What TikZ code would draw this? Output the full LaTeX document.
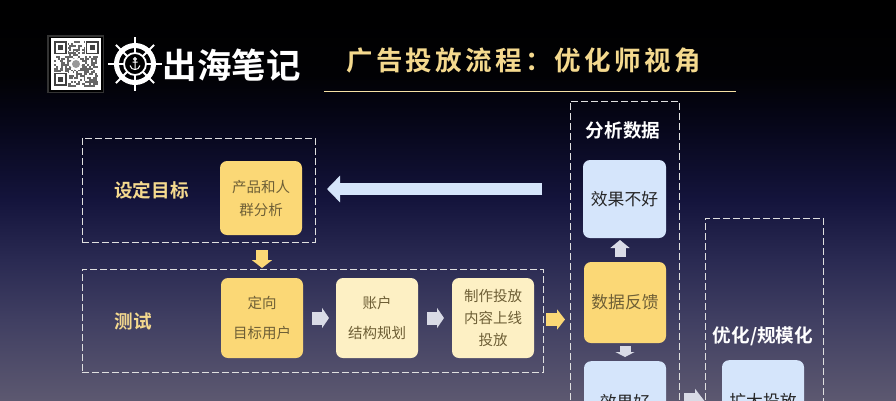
\documentclass[tikz,border=0pt]{standalone}
\usepackage{fontspec}
\usetikzlibrary{arrows.meta,calc}
\newfontfamily\cjk{Noto Sans CJK SC}
\newfontfamily\cjkb{Noto Sans CJK SC Bold}
\newfontfamily\cjkt[LetterSpace=12.5]{Noto Sans CJK SC Bold}
\definecolor{gold}{HTML}{FBD876}
\definecolor{pale}{HTML}{FDF0C4}
\definecolor{ice}{HTML}{D5E5FB}
\definecolor{greyarrow}{HTML}{D9DBE6}
\definecolor{headgold}{HTML}{F4D98E}
\definecolor{cardtext}{HTML}{6E5F36}
\definecolor{c400}{HTML}{5C5870}
\definecolor{c320}{HTML}{403F62}
\definecolor{c260}{HTML}{2A2A52}
\definecolor{c200}{HTML}{14143C}
\definecolor{c130}{HTML}{07071C}
\definecolor{c75}{HTML}{010104}
\pgfdeclareverticalshading{bgshade}{100bp}{
  color(0bp)=(c400);
  color(25bp)=(c400); color(35bp)=(c320); color(42.5bp)=(c260);
  color(50bp)=(c200); color(58.75bp)=(c130); color(65.6bp)=(c75);
  color(75bp)=(black); color(100bp)=(black)}
\tikzset{
  x=1pt,y=-1pt,
  dashbox/.style={draw=white!88!black,line width=0.9pt,dash pattern=on 7pt off 3pt},
  card/.style={rounded corners=7pt,inner sep=0pt,align=center,font=\cjk\fontsize{14.5}{23}\selectfont},
  goldcard/.style={card,fill=gold,text=cardtext},
  palecard/.style={card,fill=pale,text=cardtext},
  icecard/.style={card,fill=ice,text=black!85},
  blockarrow/.style={line width=#1,line cap=butt},
  head/.style={font=\cjkb\fontsize{18.6}{22}\selectfont},
}
\begin{document}
\begin{tikzpicture}
\useasboundingbox (0,0) rectangle (896,400);
\clip (0,0) rectangle (896,400);
\shade[shading=bgshade] (0,0) rectangle (896,400);

% QR code
\fill[black!80!white] (47,35) rectangle (104,93);
\fill[black] (48.5,36.5) rectangle (102.5,91.5);
\fill[white] (51,38) rectangle (101,90);
\pgfmathsetseed{7}
\foreach \i in {0,...,23}{\foreach \j in {0,...,23}{
  \pgfmathparse{rnd<0.5?1:0}
  \ifnum\pgfmathresult=1
    \fill[black!60] ({54+\i*1.85},{41+\j*1.9}) rectangle ++(1.85,1.9);
  \fi}}
\foreach \px/\py in {54/41,85.5/41,54/72.6}{
  \fill[white] (\px-1,\py-1) rectangle ++(15,15.5);
  \fill[black!75] (\px,\py) rectangle ++(13,13.4);
  \fill[white] (\px+1.6,\py+1.6) rectangle ++(9.8,10.2);
  \fill[black!75] (\px+4,\py+4) rectangle ++(5,5.4);
}
\fill[white] (76,64) circle (6);
\fill[black!40] (76,64) circle (4);

% wheel logo
\begin{scope}[shift={(135,64)}]
  \foreach \a in {0,90,180,270}
    \draw[white,line width=1.4pt] (\a:10) -- (\a:27);
  \foreach \a in {45,135,225,315}
    \draw[white,line width=2pt] (\a:10) -- (\a:27);
  \draw[white,line width=5pt] (0,0) circle (18.5);
  \foreach \a in {22.5,67.5,...,360}
    \draw[black,line width=2pt] (\a-12:14.2) arc[start angle=\a-12,end angle=\a+12,radius=14.2];
  \fill[black] (0,0) circle (10.8);
  \draw[white,line width=1.8pt] (0,0) circle (11);
  \draw[white,line width=1pt] (0,-5) circle (1.3) (0,-3.7) -- (0,5.5) (-2.5,-1.8) -- (2.5,-1.8);
  \draw[white,line width=1pt] (-5,1.5) .. controls (-4.5,4.5) and (-2,5.5) .. (0,5.5) .. controls (2,5.5) and (4.5,4.5) .. (5,1.5);
\end{scope}

\node[text=white,font=\cjkb\fontsize{34.5}{36}\selectfont,inner sep=0pt] (brand) at (231.5,65) {出海笔记};
\node[text=headgold,font=\cjkt\fontsize{26.5}{28}\selectfont,inner sep=0pt] (title) at (523.5,60.5) {广告投放流程：优化师视角};
\coordinate (ruleL) at (324,91);
\coordinate (ruleR) at (736,91);
\draw[draw=headgold!80!white,line width=0.9pt] (ruleL) -- (ruleR);

% dashed groups
\node[dashbox,minimum width=233pt,minimum height=104pt,inner sep=0pt] (goal) at (198.5,190) {};
\node[dashbox,minimum width=461pt,minimum height=103pt,inner sep=0pt] (test) at (312.5,320.5) {};
\draw[dashbox] (570,420) -- (570,101) -- (679,101) -- (679,420);
\draw[dashbox] (705,420) -- (705,218) -- (823,218) -- (823,420);

% headings
\node[head,text=headgold,inner sep=0pt] (goalhead) at (151.5,190) {设定目标};
\node[head,text=headgold,inner sep=0pt] (testhead) at (133,321) {测试};
\node[head,text=white,inner sep=0pt] (anhead) at (623,130) {分析数据};
\node[head,text=white,inner sep=0pt] (opthead) at (763,336) {优化/规模化};

% cards
\node[goldcard,minimum width=82pt,minimum height=74pt] (product) at (261,198) {产品和人\\群分析};
\node[goldcard,minimum width=82pt,minimum height=80pt,font=\cjk\fontsize{14.5}{30}\selectfont] (target) at (262,318) {定向\\目标用户};
\node[palecard,minimum width=82pt,minimum height=80pt,font=\cjk\fontsize{14.5}{30}\selectfont] (account) at (377,318) {账户\\结构规划};
\node[palecard,minimum width=82pt,minimum height=80pt,font=\cjk\fontsize{14.5}{22}\selectfont] (content) at (493,318) {制作投放\\内容上线\\投放};
\node[icecard,minimum width=83pt,minimum height=78pt,font=\cjk\fontsize{16.8}{22}\selectfont] (bad) at (624.5,199) {效果不好};
\node[goldcard,minimum width=82pt,minimum height=81pt,font=\cjk\fontsize{16.8}{22}\selectfont] (feedback) at (625,302.5) {数据反馈};
\node[icecard,anchor=north,minimum width=82pt,minimum height=81pt,font=\cjk\fontsize{16.8}{22}\selectfont] (good) at (625,361) {效果好};
\node[icecard,anchor=north,minimum width=82pt,minimum height=81pt,font=\cjk\fontsize{16.8}{22}\selectfont] (scale) at (763,360) {扩大投放};

% block arrows
\coordinate (a1s) at (542,189); \coordinate (a1e) at (327,189);
\draw[blockarrow=12pt,ice,-{Triangle[length=13pt,width=26pt]}] (a1s) -- (a1e);
\coordinate (a2s) at (262,250); \coordinate (a2e) at (262,268);
\draw[blockarrow=12pt,gold,-{Triangle[length=8pt,width=20pt]}] (a2s) -- (a2e);
\coordinate (a3s) at (312,318); \coordinate (a3e) at (329,318);
\draw[blockarrow=13pt,greyarrow,-{Triangle[length=7pt,width=20pt]}] (a3s) -- (a3e);
\coordinate (a4s) at (427,318); \coordinate (a4e) at (444,318);
\draw[blockarrow=13pt,greyarrow,-{Triangle[length=7pt,width=20pt]}] (a4s) -- (a4e);
\coordinate (a5s) at (546,319.5); \coordinate (a5e) at (565,319.5);
\draw[blockarrow=13pt,gold,-{Triangle[length=8pt,width=20pt]}] (a5s) -- (a5e);
\coordinate (a6s) at (620,257); \coordinate (a6e) at (620,240);
\draw[blockarrow=11pt,greyarrow,-{Triangle[length=8pt,width=19pt]}] (a6s) -- (a6e);
\coordinate (a7s) at (625,346); \coordinate (a7e) at (625,357);
\draw[blockarrow=11pt,greyarrow,-{Triangle[length=5pt,width=19pt]}] (a7s) -- (a7e);
\coordinate (a8s) at (684,403); \coordinate (a8e) at (706,403);
\draw[blockarrow=20pt,greyarrow,-{Triangle[length=11pt,width=28pt]}] (a8s) -- (a8e);
\end{tikzpicture}
\end{document}
